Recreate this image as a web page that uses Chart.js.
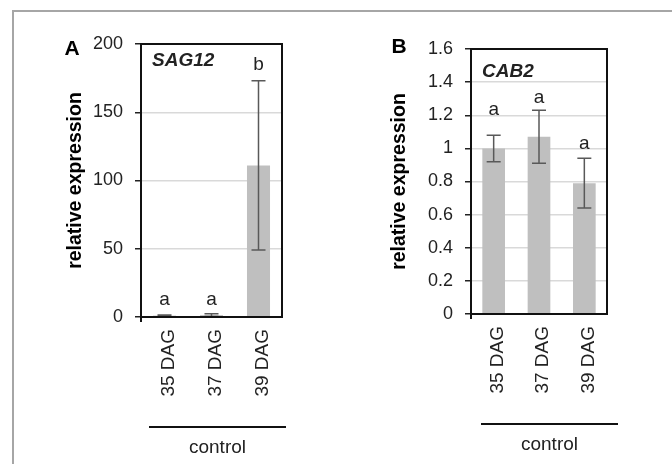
<!DOCTYPE html>
<html>
<head>
<meta charset="utf-8">
<script src="https://cdn.jsdelivr.net/npm/chart.js@4"></script>
<style>
  html, body { margin:0; padding:0; background:#fff; overflow:hidden; }
  body { width:672px; height:464px; position:relative; font-family:Arial, "Liberation Sans", sans-serif; }
  #frame { position:absolute; left:12px; top:10px; width:700px; height:500px; border-top:2px solid #a6a6a6; border-left:2px solid #a6a6a6; }
  canvas { position:absolute; }
  #cvA { left:14px; top:12px; }
  #cvB { left:336px; top:12px; }
</style>
</head>
<body>
<div id="frame"></div>
<canvas id="cvA" width="322" height="452"></canvas>
<canvas id="cvB" width="336" height="452"></canvas>
<script>
// ── data ──
const DAYS = ['35 DAG', '37 DAG', '39 DAG'];
const GROUP = 'control';

const SAG12_MEAN = [1.0, 1.4, 111];
const SAG12_ERR  = [0.5, 1.0, 62];
const SAG12_SIG  = ['a', 'a', 'b'];
const SAG12_SIG_AT = [12.5, 12.5, 184.5];   // where the letters sit (axis units)

const CAB2_MEAN = [1.0, 1.07, 0.79];
const CAB2_ERR  = [0.08, 0.16, 0.15];
const CAB2_SIG  = ['a', 'a', 'a'];
const CAB2_SIG_AT = [1.233, 1.305, 1.027];

const FONT = 'Arial, "Liberation Sans", sans-serif';
const BAR = '#bfbfbf';
const ERR = '#595959';

// ── plugin: frame, error bars, letters, labels, bracket ──
const decor = {
  id: 'decor',
  afterDraw(chart) {
    const o = chart.options.plugins.decor;
    const { ctx, chartArea: a } = chart;
    const y = chart.scales.y;
    const bars = chart.getDatasetMeta(0).data;
    ctx.save();

    // error bars
    ctx.strokeStyle = ERR; ctx.lineWidth = 1.5;
    bars.forEach((b, i) => {
      const m = o.mean[i], e = o.err[i];
      const yt = y.getPixelForValue(m + e), yb = y.getPixelForValue(m - e);
      ctx.beginPath();
      ctx.moveTo(b.x, yt); ctx.lineTo(b.x, yb);
      ctx.moveTo(b.x - 7, yt); ctx.lineTo(b.x + 7, yt);
      ctx.moveTo(b.x - 7, yb); ctx.lineTo(b.x + 7, yb);
      ctx.stroke();
    });

    // plot frame
    ctx.strokeStyle = '#111'; ctx.lineWidth = 2;
    ctx.strokeRect(a.left, a.top, a.right - a.left, a.bottom - a.top);
    // y axis runs a little below zero
    ctx.beginPath(); ctx.moveTo(a.left, a.bottom); ctx.lineTo(a.left, a.bottom + 5); ctx.stroke();

    // significance letters
    ctx.fillStyle = '#222';
    ctx.font = '19px ' + FONT;
    ctx.textAlign = 'center'; ctx.textBaseline = 'middle';
    bars.forEach((b, i) => ctx.fillText(o.sig[i], b.x, y.getPixelForValue(o.sigAt[i])));

    // gene name
    ctx.font = 'italic bold 19px ' + FONT;
    ctx.textAlign = 'left';
    ctx.fillText(o.gene, a.left + 11, a.top + o.geneDy);

    // panel letter
    ctx.font = 'bold 21px ' + FONT;
    ctx.textAlign = 'center'; ctx.fillStyle = '#000';
    ctx.fillText(o.panel, a.left + o.panelDx, a.top + o.panelDy);

    // group bracket
    ctx.strokeStyle = '#111'; ctx.lineWidth = 2;
    ctx.beginPath();
    ctx.moveTo(a.left + o.brL, a.bottom + 110);
    ctx.lineTo(a.right + o.brR, a.bottom + 110);
    ctx.stroke();
    ctx.fillStyle = '#222';
    ctx.font = '19px ' + FONT;
    ctx.fillText(GROUP, (a.left + o.brL + a.right + o.brR) / 2, a.bottom + 131);
    ctx.restore();
  }
};

function makePanel(id, cfg) {
  new Chart(document.getElementById(id), {
    type: 'bar',
    data: {
      labels: DAYS,
      datasets: [{ data: cfg.mean, backgroundColor: BAR, borderWidth: 0,
                   categoryPercentage: 1, barPercentage: cfg.barPct }],
    },
    plugins: [decor],
    options: {
      responsive: false, animation: false,
      layout: { padding: cfg.pad },
      plugins: {
        legend: { display: false }, tooltip: { enabled: false },
        decor: cfg.decor,
      },
      scales: {
        x: {
          grid: { display: false, drawTicks: false },
          border: { display: false },
          ticks: { color: '#222', font: { family: FONT, size: 19 }, minRotation: 90, maxRotation: 90,
                   autoSkip: false, padding: 12, labelOffset: 4 },
          afterFit: s => { s.height = 80; },
        },
        y: {
          min: 0, max: cfg.max,
          grid: { color: '#d9d9d9', lineWidth: 1.5, tickLength: 6, tickColor: '#222', tickWidth: 1.5 },
          border: { display: false },
          ticks: { stepSize: cfg.step, color: '#222', font: { family: FONT, size: 18 }, padding: 12,
                   callback: v => String(+v.toFixed(1)) },
          title: { display: true, text: 'relative expression', color: '#000', padding: 0,
                   font: { family: FONT, size: 19.5, weight: 'bold' } },
          afterFit: s => { s.width = cfg.yWidth; },
        },
      },
    },
  });
}

makePanel('cvA', {
  mean: SAG12_MEAN, max: 200, step: 50, barPct: 0.49,
  pad: { left: 50, top: 32, right: 54, bottom: 67 }, yWidth: 77,
  decor: { mean: SAG12_MEAN, err: SAG12_ERR, sig: SAG12_SIG, sigAt: SAG12_SIG_AT,
           gene: 'SAG12', geneDy: 17, panel: 'A', panelDx: -69, panelDy: 5, brL: 8, brR: 4 },
});

makePanel('cvB', {
  mean: CAB2_MEAN, max: 1.6, step: 0.2, barPct: 0.5,
  pad: { left: 52, top: 37, right: 65, bottom: 70 }, yWidth: 83,
  decor: { mean: CAB2_MEAN, err: CAB2_ERR, sig: CAB2_SIG, sigAt: CAB2_SIG_AT,
           gene: 'CAB2', geneDy: 23, panel: 'B', panelDx: -72, panelDy: -2, brL: 10, brR: 11 },
});
</script>
</body>
</html>
